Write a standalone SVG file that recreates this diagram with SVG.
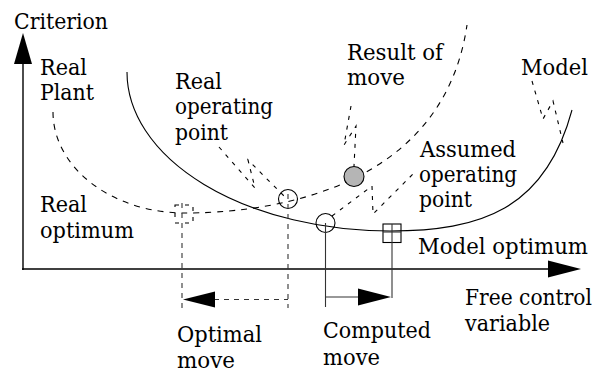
<svg xmlns="http://www.w3.org/2000/svg" width="595" height="373" viewBox="0 0 595 373">
<style>
text{font-family:'DejaVu Serif','Liberation Serif',serif;font-size:22px;fill:#000}
.ax{stroke:#000;stroke-width:1.4;fill:none}
.sol{stroke:#000;stroke-width:1.1;fill:none}
.crv{stroke:#000;stroke-width:1.1;fill:none;stroke-dasharray:6 6}
.ld{stroke:#000;stroke-width:1.1;fill:none;stroke-dasharray:4 6}
.vd{stroke:#333;stroke-width:1.1;fill:none;stroke-dasharray:5 5}
.thin{stroke:#333;stroke-width:1.1;fill:none}
.head{fill:#000;stroke:none}
</style>
<rect width="595" height="373" fill="#fff"/>
<g id="axes">
  <line class="ax" x1="23" y1="270" x2="23" y2="62"/>
  <polygon class="head" points="23,33 14,64 32,64"/>
  <line class="ax" x1="22" y1="269" x2="552" y2="269"/>
  <polygon class="head" points="581,269 548,260.5 548,277.5"/>
  <text x="14" y="29" textLength="94" lengthAdjust="spacingAndGlyphs">Criterion</text>
  <text x="465" y="305" textLength="127" lengthAdjust="spacingAndGlyphs">Free control</text>
  <text x="465" y="331" textLength="85" lengthAdjust="spacingAndGlyphs">variable</text>
</g>
<g id="model">
  <path class="sol" d="M127,72 A263,159 0 0 0 390,231 C480,231 545,210 572,110"/>
  <text x="521" y="75" textLength="67" lengthAdjust="spacingAndGlyphs">Model</text>
</g>
<g id="real-plant">
  <path class="crv" d="M53,112 A132,101 0 0 0 185,213 C260,213 442,195 467,25"/>
  <text x="40" y="75" textLength="47" lengthAdjust="spacingAndGlyphs">Real</text>
  <text x="40" y="100" textLength="54" lengthAdjust="spacingAndGlyphs">Plant</text>
</g>
<g id="real-operating-point">
  <circle cx="288" cy="199" r="9.5" fill="none" stroke="#000" stroke-width="1.1"/>
  <text x="175" y="89" textLength="47" lengthAdjust="spacingAndGlyphs">Real</text>
  <text x="175" y="114" textLength="98" lengthAdjust="spacingAndGlyphs">operating</text>
  <text x="175" y="140" textLength="53" lengthAdjust="spacingAndGlyphs">point</text>
</g>
<g id="result-of-move">
  <circle cx="354" cy="176.5" r="10" fill="#b5b5b5" stroke="#000" stroke-width="1.1"/>
  <text x="347" y="60" textLength="96" lengthAdjust="spacingAndGlyphs">Result of</text>
  <text x="347" y="85" textLength="58" lengthAdjust="spacingAndGlyphs">move</text>
</g>
<g id="assumed-operating-point">
  <circle cx="325.5" cy="223" r="9.5" fill="none" stroke="#000" stroke-width="1.1"/>
  <text x="420" y="157" textLength="96" lengthAdjust="spacingAndGlyphs">Assumed</text>
  <text x="419" y="182" textLength="98" lengthAdjust="spacingAndGlyphs">operating</text>
  <text x="419" y="207" textLength="53" lengthAdjust="spacingAndGlyphs">point</text>
</g>
<g id="model-optimum">
  <rect x="383" y="224" width="18" height="18.5" fill="none" stroke="#000" stroke-width="1.1"/>
  <line class="thin" x1="383" y1="232" x2="401" y2="232"/>
  <text x="418" y="254" textLength="170" lengthAdjust="spacingAndGlyphs">Model optimum</text>
</g>
<g id="real-optimum">
  <rect x="175" y="205" width="18" height="18" fill="none" stroke="#000" stroke-width="1.1" stroke-dasharray="4 6"/>
  <text x="40" y="212" textLength="47" lengthAdjust="spacingAndGlyphs">Real</text>
  <text x="40" y="238" textLength="94" lengthAdjust="spacingAndGlyphs">optimum</text>
</g>
<g id="optimal-move">
  <text x="177" y="342" textLength="85" lengthAdjust="spacingAndGlyphs">Optimal</text>
  <text x="177" y="368" textLength="58" lengthAdjust="spacingAndGlyphs">move</text>
</g>
<g id="computed-move">
  <text x="323" y="338" textLength="108" lengthAdjust="spacingAndGlyphs">Computed</text>
  <text x="323" y="365" textLength="57" lengthAdjust="spacingAndGlyphs">move</text>
</g>
<g id="connectors">
  <path class="ld" d="M219,147 L255,188 L248,160 L287,199"/>
  <path class="ld" d="M351,106 L344,145 L356,126 L354,166"/>
  <path class="ld" d="M532,81 L543,119 L553,101 L563,143"/>
  <path class="ld" d="M332,216 L372,186 L373,214 L415,172"/>
  <line class="vd" x1="182" y1="203" x2="182" y2="308"/>
  <line class="vd" x1="288" y1="194" x2="288" y2="308"/>
  <line class="vd" x1="214" y1="299.5" x2="288" y2="299.5"/>
  <polygon class="head" points="183,299.5 215,291.5 215,307.5"/>
  <line class="thin" x1="325.5" y1="223" x2="325.5" y2="307"/>
  <line class="thin" x1="392" y1="224" x2="392" y2="298"/>
  <line class="thin" x1="325.5" y1="297" x2="360" y2="297"/>
  <polygon class="head" points="391,297 358,288.5 358,305.5"/>
</g>
</svg>
